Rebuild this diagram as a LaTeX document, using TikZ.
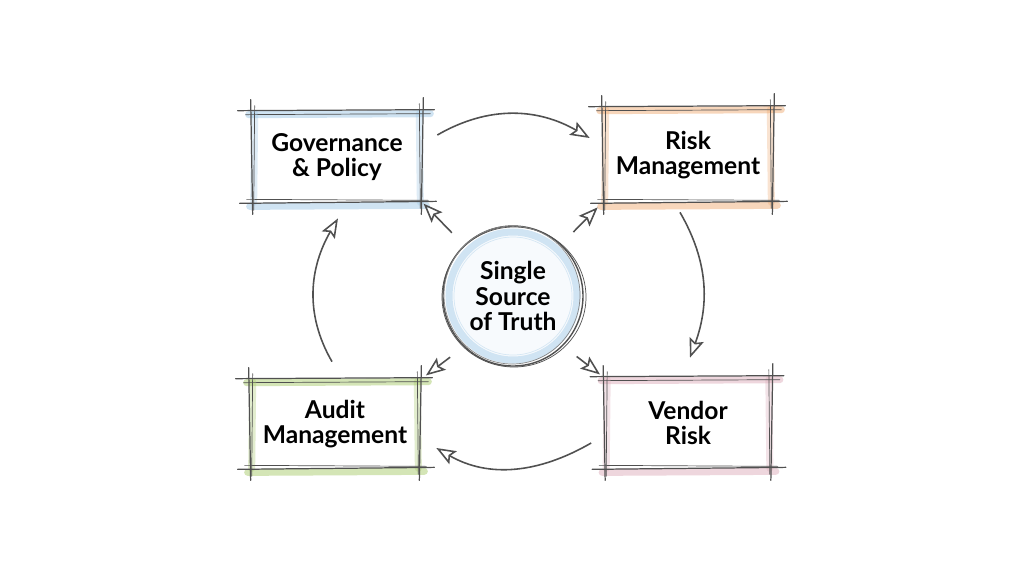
\documentclass[tikz,border=0pt]{standalone}
\usepackage{fontspec}
\setmainfont{Lato}
\usetikzlibrary{arrows.meta,calc,positioning,backgrounds}
\tikzset{>={Stealth[open,inset=2pt,length=11pt,width=8.5pt]}}
\definecolor{govblue}{RGB}{150,195,228}
\definecolor{riskorange}{RGB}{238,165,105}
\definecolor{auditgreen}{RGB}{160,198,95}
\definecolor{vendorpink}{RGB}{218,165,180}
\definecolor{lead}{RGB}{80,80,80}

\begin{document}
\begin{tikzpicture}[x=0.02cm,y=0.02cm,
    box/.style={inner sep=0pt,align=center,font=\bfseries\fontsize{14}{14.5}\selectfont},
    hub/.style={circle,minimum size=2.8cm,inner sep=0pt,align=center,font=\bfseries\fontsize{14}{14.5}\selectfont},
    hilite/.style={draw=#1,line width=4pt,opacity=0.45,line cap=round},
    pencil/.style={draw=lead,line width=0.7pt,line cap=round},
    flow/.style={draw=lead,line width=0.9pt}]
        \useasboundingbox (0,0) rectangle (1024,-576);
        \node[box,minimum width=3.4cm,minimum height=1.8cm] (gov) at (337,-157) {Governance\\\& Policy};
        \node[box,minimum width=3.4cm,minimum height=1.88cm] (risk) at (688,-155) {Risk\\Management};
        \node[box,minimum width=3.4cm,minimum height=1.76cm] (audit) at (335,-424) {Audit\\Management};
        \node[box,minimum width=3.34cm,minimum height=1.8cm] (vendor) at (688,-423) {Vendor\\Risk};
        \node[hub] (sst) at (513,-296) {Single\\Source\\of Truth};
        % coloured strokes behind the boxes
        \begin{scope}[on background layer]
        \fill[white] (0,0) rectangle (1024,-576);
        \foreach \n/\c in {gov/govblue,risk/riskorange,audit/auditgreen,vendor/vendorpink}{
            \draw[hilite=\c] ($(\n.north west)+(-3,-3)$) -- ($(\n.north east)+(8,-2)$);
            \draw[hilite=\c] ($(\n.south west)+(-2,-4)$) -- ($(\n.south east)+(4,-3)$);
            \draw[hilite=\c,opacity=0.3] ($(\n.north west)+(3,-2)$) -- ($(\n.south west)+(2,0)$);
            \draw[hilite=\c,opacity=0.3] ($(\n.north east)+(-3,-2)$) -- ($(\n.south east)+(-2,0)$);
        }
        \fill[govblue!8] (sst) circle[radius=66];
        \draw[govblue!45,line width=4pt] (sst) circle[radius=64];
        \draw[govblue!40,thin] (sst) circle[radius=59];
        \end{scope}
        % pencil outlines
        \foreach \n in {gov,risk,audit,vendor}{
            \draw[pencil] ($(\n.north west)+(-14,1)$) -- ($(\n.north east)+(12,2)$);
            \draw[pencil,thin] ($(\n.north west)+(-6,-3)$) -- ($(\n.north east)+(8,-2)$);
            \draw[pencil] ($(\n.south west)+(-12,-1)$) -- ($(\n.south east)+(14,1)$);
            \draw[pencil,thin] ($(\n.south west)+(-5,3)$) -- ($(\n.south east)+(6,2)$);
            \draw[pencil] ($(\n.north west)+(-1,12)$) -- ($(\n.south west)+(1,-12)$);
            \draw[pencil,thin] ($(\n.north west)+(3,6)$) -- ($(\n.south west)+(2,-8)$);
            \draw[pencil] ($(\n.north east)+(1,14)$) -- ($(\n.south east)+(-1,-12)$);
            \draw[pencil,thin] ($(\n.north east)+(-3,8)$) -- ($(\n.south east)+(-2,-6)$);
        }
        \draw[lead,line width=0.8pt] (sst) circle[radius=70];
        \draw[lead,thin] ($(sst)+(1,-1)$) circle[x radius=72,y radius=70];
        \draw[lead!70,thin] ($(sst)+(-1,1)$) circle[x radius=68,y radius=69];
        % the cycle
        \draw[flow,->] ($(gov.east)+(15,22)$) to[out=30,in=150] ($(risk.west)+(-13,17)$);
        \draw[flow,->] ($(risk.south)+(-8,-10)$) to[out=-60,in=70] ($(vendor.north)+(2,20)$);
        \draw[flow,->] ($(vendor.west)+(-13,-20)$) to[out=-150,in=-30] ($(audit.east)+(16,-24)$);
        \draw[flow,->] ($(audit.north)+(-3,18)$) to[out=120,in=-120] ($(gov.south)+(1,-16)$);
        % out of the hub
        \draw[flow,->,shorten <=10pt,shorten >=1pt] (sst.134) -- (gov.south east);
        \draw[flow,->,shorten <=10pt,shorten >=4pt] (sst.47) -- (risk.south west);
        \draw[flow,->,shorten <=10pt,shorten >=4pt] (sst.226) -- (audit.north east);
        \draw[flow,->,shorten <=10pt,shorten >=3pt] (sst.-45) -- (vendor.north west);
\end{tikzpicture}
\end{document}
